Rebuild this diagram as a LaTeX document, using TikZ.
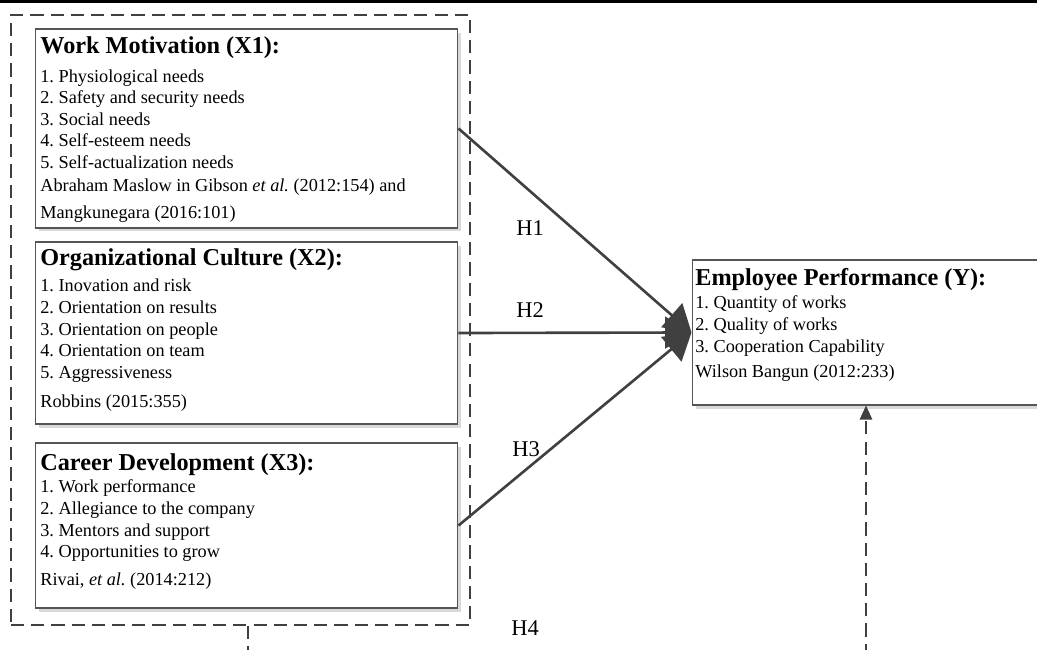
\documentclass[tikz,border=0pt]{standalone}
\usepackage{fontspec}
\setmainfont{Liberation Serif}
\usetikzlibrary{arrows.meta}
\usetikzlibrary{shadows}
\definecolor{linegray}{HTML}{404040}
\definecolor{boxgray}{HTML}{555555}
\frenchspacing

\tikzset{
  varbox/.style={draw=boxgray, line width=0.6pt, fill=white, inner sep=0pt,
    drop shadow={shadow xshift=2pt, shadow yshift=-2pt, fill=black!15, opacity=1}},
  headtxt/.style={anchor=base west, inner sep=0pt, font=\fontsize{13.8}{16}\selectfont\bfseries},
  itemtxt/.style={anchor=base west, inner sep=0pt, font=\fontsize{10.4}{12}\selectfont},
  hyplbl/.style={inner sep=0pt, font=\fontsize{12.8}{14}\selectfont},
  hyparrow/.style={draw=linegray, line width=1.5pt, -{Triangle[length=15pt,width=18pt]}},
  groupline/.style={draw=linegray, line width=1.1pt, dash pattern=on 7.5pt off 4pt},
}

\begin{document}
\begin{tikzpicture}[x=0.02cm, y=-0.02cm]
    \useasboundingbox (0,0) rectangle (1037,649);
    \begin{scope}
        \clip (0,0) rectangle (1037,649); % cut the parts running off the page
        \fill[black] (0,0) rectangle (1037,2.5);

        % dashed frame round the three variables
        \node[groupline, minimum width=9.18cm, minimum height=12.2cm, inner sep=0pt] (grp) at (240.5,320) {};

        \node[varbox, minimum width=8.46cm, minimum height=3.98cm] (x1) at (246.5,128.5) {};
        \node[varbox, minimum width=8.46cm, minimum height=3.64cm] (x2) at (246.5,333) {};
        \node[varbox, minimum width=8.46cm, minimum height=3.3cm] (x3) at (246.5,525.5) {};
        \node[varbox, minimum width=7.2cm, minimum height=2.9cm] (y) at (872,332.5) {};

        % X1
        \node[headtxt] (x1head) at (40,53) {Work Motivation (X1):};
        \foreach \t [count=\i] in {Physiological needs, Safety and security needs, Social needs, Self-esteem needs, Self-actualization needs}{
            \node[itemtxt] (x1item\i) at (40,{60.5+21.5*\i}) {\i. \t};
        };
        \node[itemtxt] (x1refa) at (40,191) {Abraham Maslow in Gibson \textit{et al.} (2012:154) and};
        \node[itemtxt] (x1refb) at (40,218) {Mangkunegara (2016:101)};

        % X2
        \node[headtxt] (x2head) at (40,265) {Organizational Culture (X2):};
        \foreach \t [count=\i] in {Inovation and risk, Orientation on results, Orientation on people, Orientation on team, Aggressiveness}{
            \node[itemtxt] (x2item\i) at (40,{270+21.7*\i}) {\i. \t};
        };
        \node[itemtxt] (x2ref) at (40,407) {Robbins (2015:355)};

        % X3
        \node[headtxt] (x3head) at (40,470) {Career Development (X3):};
        \foreach \t [count=\i] in {Work performance, Allegiance to the company, Mentors and support, Opportunities to grow}{
            \node[itemtxt] (x3item\i) at (40,{471+21.7*\i}) {\i. \t};
        };
        \node[itemtxt] (x3ref) at (40,585) {Rivai, \textit{et al.} (2014:212)};

        % Y
        \node[headtxt] (yhead) at (695,285) {Employee Performance (Y):};
        \foreach \t [count=\i] in {Quantity of works, Quality of works, Cooperation Capability}{
            \node[itemtxt] (yitem\i) at (695,{286+22*\i}) {\i. \t};
        };
        \node[itemtxt] (yref) at (695,377) {Wilson Bangun (2012:233)};

        % hypotheses
        \draw[hyparrow] (x1.east) -- (y.west);
        \draw[hyparrow] (x2.east) -- (y.west);
        \draw[hyparrow] (x3.east) -- (y.west);
        \draw[groupline, -{Triangle[length=8pt,width=7pt]}] ([xshift=0.15cm]grp.south) -- ++(0,60) -| ([xshift=-0.12cm]y.south);

        \node[hyplbl] (h1) at (530,228) {H1};
        \node[hyplbl] (h2) at (530,310) {H2};
        \node[hyplbl] (h3) at (526,449) {H3};
        \node[hyplbl] (h4) at (525,628) {H4};
    \end{scope}
\end{tikzpicture}
\end{document}
